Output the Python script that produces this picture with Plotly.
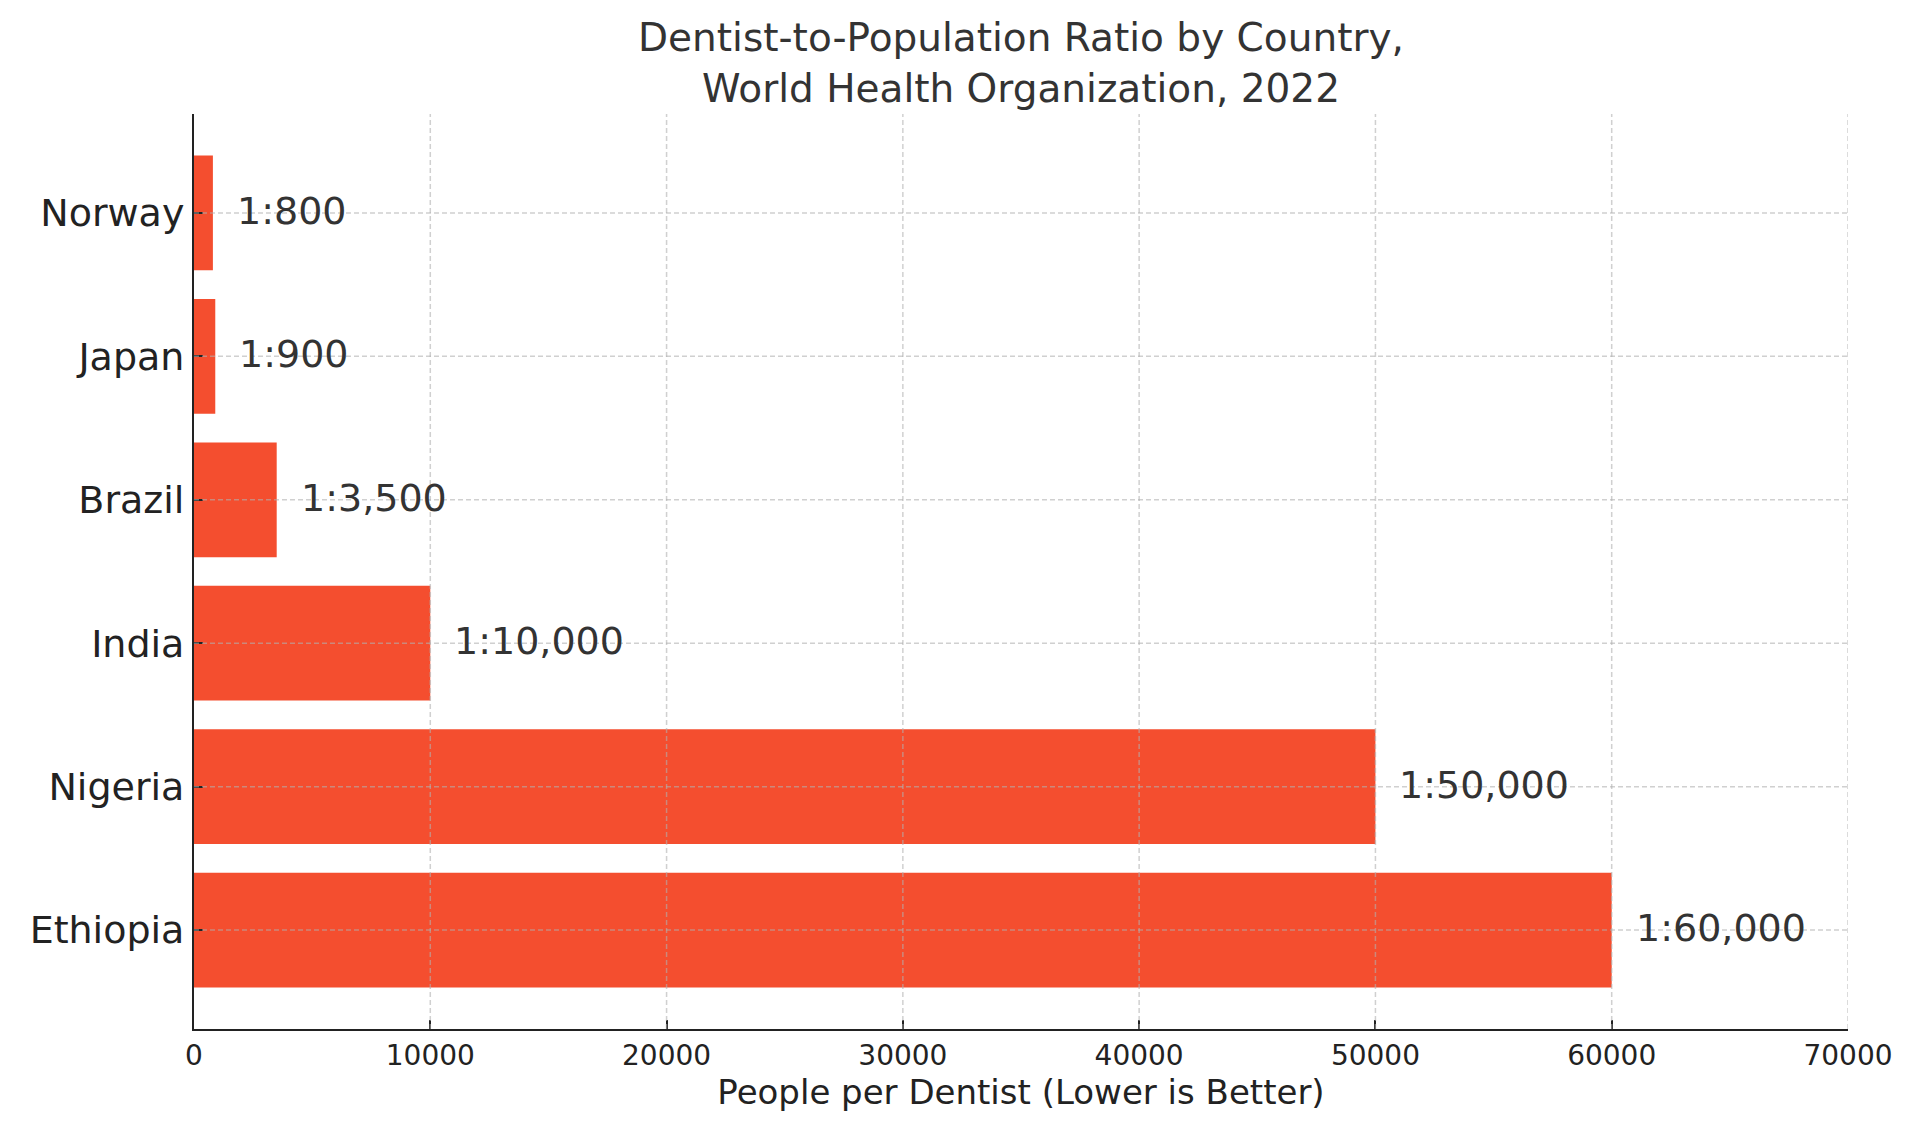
import plotly.graph_objects as go

# people per dentist, WHO 2022 (bottom to top as drawn)
countries = ["Ethiopia", "Nigeria", "India", "Brazil", "Japan", "Norway"]
people_per_dentist = [60000, 50000, 10000, 3500, 900, 800]
ratio_labels = ["1:60,000", "1:50,000", "1:10,000", "1:3,500", "1:900", "1:800"]
x_ticks = [0, 10000, 20000, 30000, 40000, 50000, 60000, 70000]

bar_color = "#f44e2f"
font_family = "DejaVu Sans"
grid_line = dict(color="rgba(176,176,176,0.6)", width=1.5, dash="5px,3px")

ml, mr, mt, mb = 186, 80, 106, 114

fig = go.Figure()
fig.add_trace(go.Bar(
    x=people_per_dentist,
    y=countries,
    orientation="h",
    width=0.8,
    marker=dict(color=bar_color, line=dict(width=0)),
    hoverinfo="skip",
))

for c, v, lab in zip(countries, people_per_dentist, ratio_labels):
    fig.add_annotation(
        x=v, y=c, text=lab, showarrow=False,
        xanchor="left", yanchor="middle", xshift=22, yshift=2,
        font=dict(family=font_family, size=38, color="#333333"),
    )

# grid drawn over the bars, like matplotlib's axes grid
for t in x_ticks[1:]:
    fig.add_shape(type="line", xref="x", yref="paper", x0=t, x1=t, y0=0, y1=1,
                  line=grid_line, layer="above")
for c in countries:
    fig.add_shape(type="line", xref="paper", yref="y", x0=0, x1=1, y0=c, y1=c,
                  line=grid_line, layer="above")

fig.update_layout(
    width=1920,
    height=1135,
    margin=dict(l=ml, r=mr, t=mt, b=mb),
    paper_bgcolor="white",
    plot_bgcolor="white",
    showlegend=False,
    font=dict(family=font_family, color="#222222"),
    title=dict(
        text="Dentist-to-Population Ratio by Country,<br>World Health Organization, 2022",
        x=(ml + 1920 - mr) / 2 / 1920, xanchor="center",
        y=1 - 43 / 1135, yref="container", yanchor="middle",
        font=dict(family=font_family, size=39, color="#333333"),
    ),
)

fig.update_xaxes(
    range=[0, 70000],
    tickmode="array",
    tickvals=x_ticks,
    ticktext=[str(t) for t in x_ticks],
    ticks="inside",
    ticklen=9,
    tickwidth=2,
    tickcolor="#222222",
    tickfont=dict(size=28, color="#222222"),
    showline=True,
    linecolor="#222222",
    linewidth=2,
    showgrid=False,
    zeroline=False,
    layer="above traces",
    title=dict(text="People per Dentist (Lower is Better)",
               font=dict(size=34, color="#222222"), standoff=7),
    automargin=False,
)

fig.update_yaxes(
    categoryorder="array",
    categoryarray=countries,
    range=[-0.69, 5.69],
    ticks="inside",
    ticklen=9,
    tickwidth=2,
    tickcolor="#222222",
    tickfont=dict(size=38, color="#222222"),
    showline=True,
    linecolor="#222222",
    linewidth=2,
    showgrid=False,
    zeroline=False,
    layer="above traces",
    automargin=False,
)

fig.write_html("out.html")
